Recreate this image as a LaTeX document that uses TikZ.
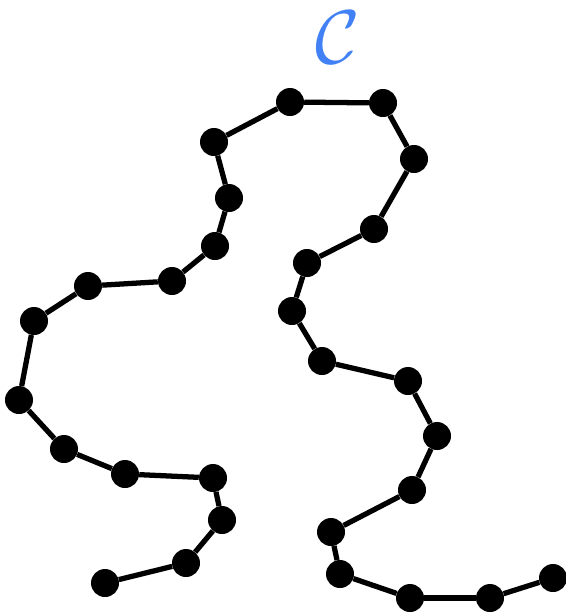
\documentclass[tikz,border=0pt]{standalone}
\usetikzlibrary{positioning}

\definecolor{labelblue}{RGB}{66,129,245}

\begin{document}
\begin{tikzpicture}[x=0.03cm,y=-0.03cm,
  bead/.style={circle,fill=black,inner sep=0pt,minimum size=0.84cm},
  link/.style={line width=4.5pt}]
  \useasboundingbox (0,0) rectangle (566,613);

  % beads of the chain
  \foreach \x/\y [count=\i] in {105/583,186/563,222/520,213/478,125/474,
      64/449,19/400,34/321,88/286,172/281,215/246,229/198,214/142,
      290/102,383/103,414/159,374/229,307/263,292/311,322/361,408/381,
      437/436,412/490,331/532,340/574,410/598,490/598,553/578}
    \node[bead] (p\i) at (\x,\y) {};

  % links
  \foreach \i [evaluate=\i as \j using int(\i+1)] in {1,...,27}
    \draw[link] (p\i) -- (p\j);

  \node[text=labelblue,scale=6.5,inner sep=0pt] (lab) at (338,37) {$\mathcal{C}$};
\end{tikzpicture}
\end{document}
